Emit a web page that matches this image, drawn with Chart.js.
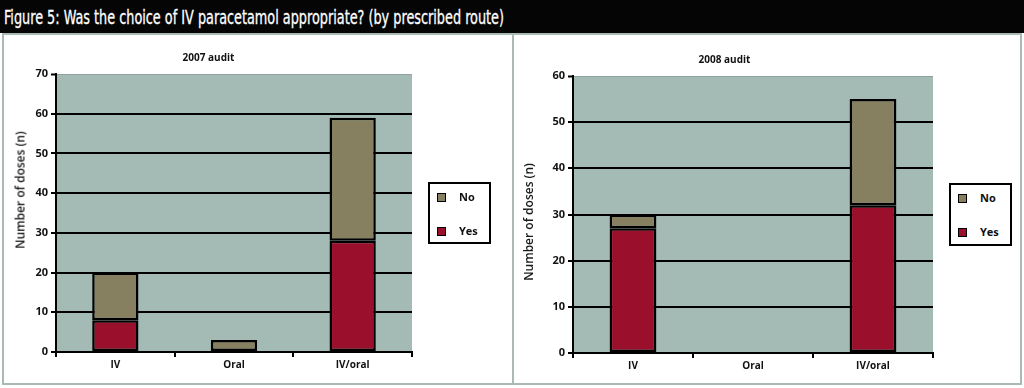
<!DOCTYPE html>
<html>
<head>
<meta charset="utf-8">
<script src="https://cdn.jsdelivr.net/npm/chart.js@4/dist/chart.umd.min.js"></script>
<style>
  html, body { margin: 0; padding: 0; background: #fff; }
  body { width: 1024px; height: 388px; position: relative; overflow: hidden; font-family: "Open Sans", sans-serif; }
  #bar { position: absolute; left: 0; top: 0; width: 1024px; height: 33px; background: #050505; }
  #figtitle { position: absolute; left: 4px; top: 6px; color: #fff; font-family: "Liberation Sans Narrow", "DejaVu Sans Condensed", sans-serif; font-size: 19px; white-space: nowrap; transform-origin: 0 0; -webkit-text-stroke: 0.3px #fff; }
  .frame { position: absolute; background: #a9b9b6; }
  canvas { position: absolute; }
  .ytitle { position: absolute; font-family: "Open Sans", sans-serif; font-size: 12px; font-weight: 600; color: #1a1a1a; white-space: nowrap; transform: translate(-50%, -50%) rotate(-90deg); }
  .legend { position: absolute; border: 2px solid #000; background: #fff; box-sizing: border-box; font-family: "Open Sans", sans-serif; font-weight: bold; font-size: 11px; color: #111; }
  .legend .item { position: absolute; left: 7px; height: 10px; }
  .legend .sw { position: absolute; left: 0; top: 0; width: 7px; height: 7px; border: 1.5px solid #000; }
  .legend .lb { position: absolute; left: 22px; top: -4px; }
</style>
</head>
<body>
<div id="bar"><div id="figtitle">Figure 5: Was the choice of IV paracetamol appropriate? (by prescribed route)</div></div>
<div class="frame" style="left:2px;top:33px;width:1020px;height:2px;"></div>
<div class="frame" style="left:2px;top:33px;width:2px;height:352px;"></div>
<div class="frame" style="left:1020px;top:33px;width:2px;height:352px;"></div>
<div class="frame" style="left:512px;top:33px;width:2px;height:352px;"></div>
<div class="frame" style="left:2px;top:383px;width:1020px;height:2px;"></div>

<canvas id="c1" width="506" height="346" style="left:5px;top:36px;width:506px;height:346px;"></canvas>
<canvas id="c2" width="504" height="346" style="left:516px;top:36px;width:504px;height:346px;"></canvas>

<div class="ytitle" style="left:20px;top:190px;">Number of doses (n)</div>
<div class="ytitle" style="left:528px;top:222px;">Number of doses (n)</div>
<div class="legend" id="lg1" style="left:428px;top:182px;width:63px;height:62px;"></div>
<div class="legend" id="lg2" style="left:949px;top:183px;width:63px;height:63px;"></div>

<script>
// ---- data ----
const categories = ['IV', 'Oral', 'IV/oral'];
const seriesNames = ['Yes', 'No'];
const yes2007 = [8, 0, 28];
const no2007 = [12, 3, 31];
const yes2008 = [27, 0, 32];
const no2008 = [3, 0, 23];
const yMax2007 = 70;
const yMax2008 = 60;
const yStep = 10;
const chartTitles = ['2007 audit', '2008 audit'];

// ---- styles ----
const YES_COLOR = '#9a0f2b';
const NO_COLOR = '#867f60';
const PLOT_BG = '#a4bab5';
const FONT = '"Open Sans", sans-serif';

// fit the figure title into its width
(function(){
  const t = document.getElementById('figtitle');
  const w = t.getBoundingClientRect().width;
  t.style.transform = 'scaleX(' + (500 / w) + ')';
})();

const plotBg = {
  id: 'plotBg',
  beforeDraw(chart) {
    const a = chart.chartArea, ctx = chart.ctx;
    ctx.save();
    ctx.fillStyle = PLOT_BG;
    ctx.fillRect(a.left, a.top, a.right - a.left, a.bottom - a.top);
    ctx.restore();
  }
};

function makeChart(id, yesData, noData, yMax, title, yWidth, padRight, titlePad, xHeight) {
  return new Chart(document.getElementById(id), {
    type: 'bar',
    data: {
      labels: categories,
      datasets: [
        { label: seriesNames[0], data: yesData, backgroundColor: YES_COLOR, borderColor: '#000', borderWidth: 2.5, borderSkipped: false },
        { label: seriesNames[1], data: noData, backgroundColor: NO_COLOR, borderColor: '#000', borderWidth: 2.5, borderSkipped: false }
      ]
    },
    options: {
      responsive: false,
      animation: false,
      devicePixelRatio: 1,
      layout: { padding: { left: 0, right: padRight, top: 0, bottom: 0 } },
      datasets: { bar: { categoryPercentage: 1, barPercentage: 0.39 } },
      plugins: {
        legend: { display: false },
        tooltip: { enabled: false },
        title: {
          display: true, text: title, color: '#111',
          font: { family: FONT, size: 10, weight: 'bold', lineHeight: 1.2 },
          padding: titlePad
        }
      },
      scales: {
        x: {
          stacked: true,
          grid: { display: true, drawOnChartArea: false, offset: true, color: '#000', lineWidth: 2, tickLength: 5 },
          border: { color: '#000', width: 2 },
          ticks: { color: '#111', padding: 2, font: { family: FONT, size: 10, weight: 'bold' } },
          afterFit(s) { s.height = xHeight; }
        },
        y: {
          stacked: true, min: 0, max: yMax,
          ticks: { stepSize: yStep, color: '#111', padding: 3, font: { family: FONT, size: 11, weight: 'bold' } },
          grid: {
            color: c => (c.tick && c.tick.value === yMax) ? '#8fa29e' : '#000',
            lineWidth: c => (c.tick && c.tick.value === yMax) ? 1 : 2,
            tickColor: '#000', tickWidth: 2, tickLength: 5
          },
          border: { color: '#000', width: 2 },
          afterFit(s) { s.width = yWidth; }
        }
      }
    },
    plugins: [plotBg]
  });
}

const ch1 = makeChart('c1', yes2007, no2007, yMax2007, chartTitles[0], 51, 99, { top: 16, bottom: 10 }, 30);
const ch2 = makeChart('c2', yes2008, no2008, yMax2008, chartTitles[1], 57, 87, { top: 18.4, bottom: 9.6 }, 29);

function buildLegend(chart, elId) {
  const el = document.getElementById(elId);
  const ds = chart.data.datasets.slice().reverse();
  ds.forEach((d, i) => {
    const it = document.createElement('div');
    it.className = 'item';
    it.style.top = (9 + i * 34) + 'px';
    it.innerHTML = '<div class="sw" style="background:' + d.backgroundColor + '"></div><div class="lb">' + d.label + '</div>';
    el.appendChild(it);
  });
}
buildLegend(ch1, 'lg1');
buildLegend(ch2, 'lg2');
</script>
</body>
</html>
